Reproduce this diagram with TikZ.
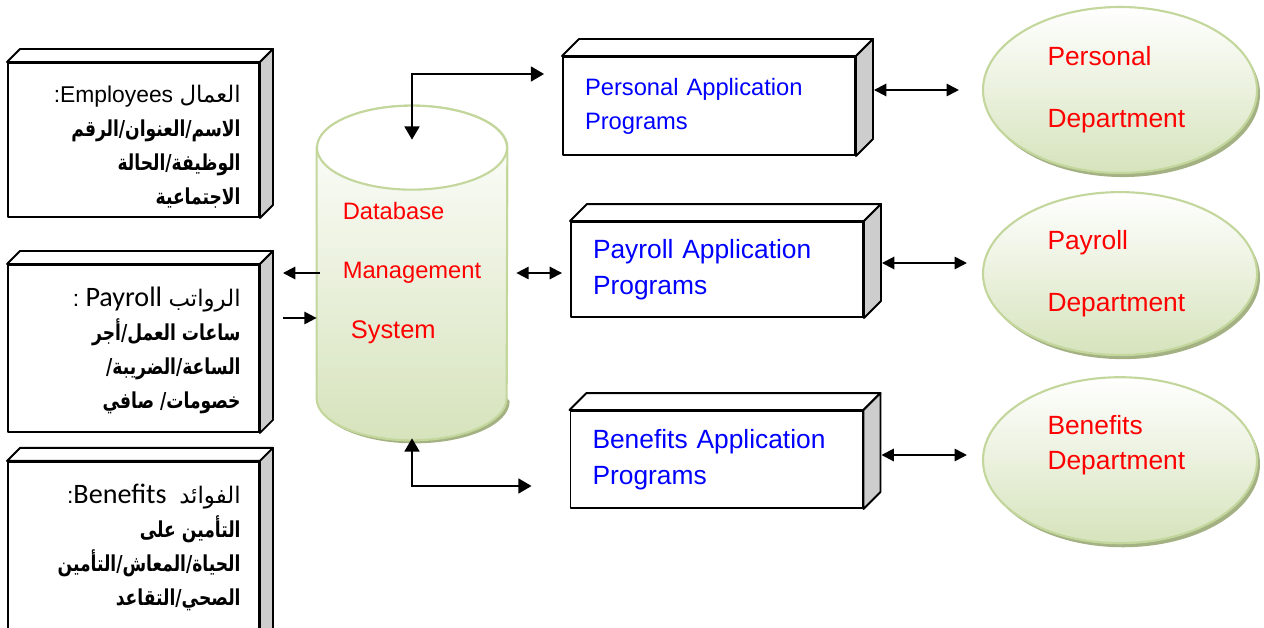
\documentclass[tikz,border=0pt]{standalone}
\usepackage{fontspec}
\setmainfont{Liberation Sans}
\newfontfamily\arabicfont[Script=Arabic]{DejaVu Sans}
\newfontfamily\arabicnarrow[Script=Arabic,FakeStretch=0.78]{DejaVu Sans}
\newfontfamily\calfont{Carlito}
\TeXXeTstate=1
\usetikzlibrary{positioning,calc,arrows.meta,shapes.geometric,shadows,backgrounds}

\definecolor{leafline}{RGB}{195,214,155}
\definecolor{leaffill}{RGB}{214,227,188}
\definecolor{leafshadow}{RGB}{163,177,131}
\definecolor{sidegray}{RGB}{205,205,205}

% top and right faces of a 3d box
\newcommand{\cubefaces}[2]{%
  \draw[cubeline, fill=white] (#1.north west) -- ++(#2,#2) -- ($(#1.north east)+(#2,#2)$) -- (#1.north east) -- cycle;
  \draw[cubeline, fill=sidegray] (#1.north east) -- ++(#2,#2) -- ($(#1.south east)+(#2,#2)$) -- (#1.south east) -- cycle;
}
% bold arabic field line
\newcommand{\fieldline}[1]{{\arabicnarrow\bfseries\fontsize{12.5}{19.3}\selectfont\beginR #1\endR}}

\tikzset{
  cubeline/.style={line width=1.1pt, line join=round},
  tablebox/.style={cubeline, draw, fill=white, minimum width=5.02cm, inner sep=0pt},
  tabletext/.style={inner sep=0pt, align=right, font=\fontsize{13}{19.3}\selectfont},
  appbox/.style={cubeline, draw, fill=white, text width=4.96cm, inner xsep=0.44cm, inner ysep=0pt, align=left, text=blue},
  dept/.style={ellipse, draw=leafline, line width=1.2pt, top color=white, bottom color=leaffill,
    general shadow={fill=leafshadow, shadow xshift=1.7pt, shadow yshift=-2.3pt},
    minimum width=5.48cm, inner sep=0pt, text width=2.9cm, align=left, text=red,
    font=\fontsize{15}{35.3}\selectfont},
  dbtext/.style={minimum width=3.8cm, minimum height=5cm, inner sep=0pt, align=left, text=red,
    font=\fontsize{13.5}{34}\selectfont},
  twoarrow/.style={{Triangle[length=7pt,width=7pt]}-{Triangle[length=7pt,width=7pt]}, line width=1.1pt},
  bigarrow/.style={{Triangle[length=7.5pt,width=8.5pt]}-{Triangle[length=7.5pt,width=8.5pt]}, line width=1.1pt},
  onearrow/.style={-{Triangle[length=7pt,width=7pt]}, line width=1.1pt},
}

\begin{document}
\begin{tikzpicture}
\useasboundingbox (0,0) rectangle (25.28,-12.56);

% tables
\node[tablebox, minimum height=3.08cm] (emp) at (2.67,-2.80) {};
\node[tablebox, minimum height=3.34cm, below=0.92cm of emp] (pay) {};
\node[tablebox, minimum height=3.64cm, below=0.56cm of pay] (ben) {};
\foreach \t in {emp,pay,ben} {\cubefaces{\t}{0.26}}

\node[tabletext, below left=0.46cm and 0.38cm of emp.north east] (emptxt) {%
  \beginR{\arabicfont العمال} \beginL Employees\endL:\endR\\
  \fieldline{الاسم/العنوان/الرقم}\\
  \fieldline{الوظيفة/الحالة}\\
  \fieldline{الاجتماعية}};
\node[tabletext, below left=0.46cm and 0.38cm of pay.north east] (paytxt) {%
  \beginR{\arabicfont الرواتب} \beginL{\calfont\fontsize{16}{19.3}\selectfont Payroll}\endL\ :\endR\\
  \fieldline{ساعات العمل/أجر}\\
  \fieldline{الساعة/الضريبة/}\\
  \fieldline{خصومات/ صافي}};
\node[tabletext, below left=0.46cm and 0.38cm of ben.north east] (bentxt) {%
  \beginR{\arabicfont الفوائد}\ \ \beginL{\calfont\fontsize{16}{19.3}\selectfont Benefits}\endL:\endR\\
  \fieldline{التأمين على}\\
  \fieldline{الحياة/المعاش/التأمين}\\
  \fieldline{الصحي/التقاعد}};

% database
\node[dbtext] (db) at (8.24,-5.46) {Database\\Management\\\hspace*{0.16cm}{\fontsize{14.5}{34}\selectfont System}};
\begin{scope}[on background layer]
  \fill[leafshadow] ([shift={(0.06,-0.06)}]db.north west) -- ([shift={(0.06,-0.06)}]db.south west)
    arc[start angle=180, end angle=360, x radius=1.9, y radius=0.84] -- cycle;
  \draw[draw=leafline, line width=1.2pt, top color=white, bottom color=leaffill]
    (db.north west) -- (db.south west) arc[start angle=180, end angle=360, x radius=1.9, y radius=0.84]
    -- (db.north east) arc[start angle=0, end angle=180, x radius=1.9, y radius=0.84] -- cycle;
  \draw[draw=leafline, line width=1.2pt, fill=white] (db.north) ellipse[x radius=1.9, y radius=0.84];
\end{scope}
\coordinate (dbin) at ([yshift=-0.9cm]db.west);

% application programs
\node[appbox, minimum height=1.96cm, font=\fontsize{13.5}{19.3}\selectfont] (persapp) at (14.18,-2.12) {Personal Application\\Programs};
\node[appbox, minimum height=1.90cm, font=\fontsize{15}{20.5}\selectfont] (payapp) at (14.34,-5.39) {Payroll Application\\Programs};
\node[appbox, minimum height=1.94cm, font=\fontsize{15}{20.5}\selectfont] (benapp) at (14.33,-9.19) {Benefits Application\\Programs};
\foreach \t in {persapp,payapp,benapp} {\cubefaces{\t}{0.34}}

% departments
\node[dept, minimum height=3.32cm] (persdept) at (22.40,-1.80) {Personal\\Department};
\node[dept, minimum height=3.26cm, below=0.34cm of persdept] (paydept) {Payroll\\Department};
\node[dept, minimum height=3.32cm, below=0.40cm of paydept, font=\fontsize{15}{19.9}\selectfont] (bendept) {Benefits\\Department\\\mbox{}};

% links
\draw[bigarrow] ([yshift=0.16cm]db.north) |- ([xshift=-0.36cm,yshift=0.64cm]persapp.west);
\draw[bigarrow] ([yshift=-0.8cm]db.south) |- ([xshift=-0.76cm,yshift=-0.53cm]benapp.west);
\draw[twoarrow] ([xshift=0.18cm]db.east) -- ([xshift=-0.16cm]payapp.west |- db.east);
\draw[onearrow] ([xshift=0.06cm]db.west) -- ([xshift=0.46cm]pay.east |- db.west);
\draw[onearrow] ([xshift=0.46cm]pay.east |- dbin) -- (dbin);
\draw[twoarrow] ([xshift=0.36cm,yshift=0.32cm]persapp.east) coordinate (pa) -- ([xshift=-0.46cm]persdept.west |- pa);
\draw[twoarrow] ([xshift=0.36cm,yshift=0.13cm]payapp.east) coordinate (pb) -- ([xshift=-0.30cm]paydept.west |- pb);
\draw[twoarrow] ([xshift=0.36cm,yshift=0.09cm]benapp.east) coordinate (pc) -- ([xshift=-0.30cm]bendept.west |- pc);
\end{tikzpicture}
\end{document}
